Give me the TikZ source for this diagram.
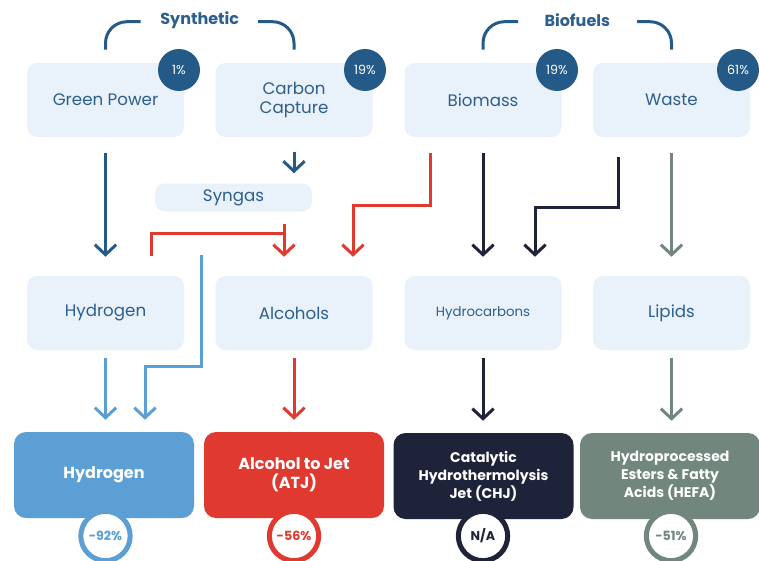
\documentclass[tikz,border=0pt]{standalone}
\usepackage{fontspec}
\setmainfont{Poppins}
\usetikzlibrary{arrows.meta,calc,positioning}

\definecolor{dblue}{HTML}{245A88}
\definecolor{tblue}{HTML}{2D5F8E}
\definecolor{boxbg}{HTML}{E9F1FA}
\definecolor{lblue}{HTML}{5B9FD4}
\definecolor{fred}{HTML}{E03A30}
\definecolor{navy}{HTML}{1F2339}
\definecolor{sage}{HTML}{71877E}

\begin{document}
\begin{tikzpicture}[x=0.75pt,y=0.75pt,yscale=-1,xscale=1,
  src/.style={fill=boxbg, rounded corners=7.5pt, minimum width=117.75pt, minimum height=55.5pt,
    text=tblue, font=\fontsize{12.5}{14}\selectfont, align=center, inner sep=0pt},
  fuel/.style={fill=#1, rounded corners=9pt, minimum width=135pt, minimum height=64.5pt,
    text=white, font=\bfseries\fontsize{12}{14}\selectfont, align=center, inner sep=0pt},
  share/.style={circle, fill=dblue, minimum size=31.5pt, inner sep=0pt, text=white,
    font=\fontsize{9.5}{10}\selectfont},
  cut/.style={circle, draw=#1, line width=3.75pt, fill=white, minimum size=37pt, inner sep=0pt,
    text=#1, font=\bfseries\fontsize{9.5}{10}\selectfont},
  title/.style={text=tblue, font=\bfseries\fontsize{12}{14}\selectfont},
  group/.style={draw=dblue, line width=2.25pt, rounded corners=16pt},
  flow/.style={draw=#1, line width=2.25pt, -{Straight Barb[length=7.5pt,width=16pt]}},
  pipe/.style={draw=#1, line width=2.25pt}
]
\useasboundingbox (0,0) rectangle (759,560);
\clip (0,0) rectangle (759,560);

% feedstocks
\node[src] (gp) at (105.5,100) {Green Power};
\node[src] (cc) at (294,100) {Carbon\\Capture};
\node[src] (bm) at (483,100) {Biomass};
\node[src] (ws) at (671.5,100) {Waste};

\node[share] (gp-s) at (179,70) {1\%};
\node[share] (cc-s) at (365,70) {19\%};
\node[share] (bm-s) at (557,70) {19\%};
\node[share] (ws-s) at (738,70) {61\%};

% group headings
\node[title] (syn-t) at ($(gp.north)!0.5!(cc.north)+(0,-43)$) {Synthetic};
\node[title] (bio-t) at ($(bm.north)!0.5!(ws.north)+(0,-43)$) {Biofuels};
\draw[group] ($(gp.north)+(35,-41)$) -| ($(gp.north)+(0,-13)$);
\draw[group] ($(cc.north)+(-36,-41)$) -| ($(cc.north)+(0,-13)$);
\draw[group] ($(bm.north)+(35,-41)$) -| ($(bm.north)+(0,-13)$);
\draw[group] ($(ws.north)+(-34.5,-41)$) -| ($(ws.north)+(0,-13)$);

% intermediates
\node[src, minimum height=21pt] (syn) at (233.5,197.5) {Syngas};
\node[src] (h2) at (105.5,313) {Hydrogen};
\node[src] (alc) at (294,313) {Alcohols};
\node[src, font=\fontsize{10}{11}\selectfont] (hc) at (483,313) {Hydrocarbons};
\node[src] (lip) at (671.5,313) {Lipids};

% fuels
\node[fuel=lblue] (hyd) at (104,475) {Hydrogen};
\node[fuel=fred] (atj) at (294,475) {Alcohol to Jet\\(ATJ)};
\node[fuel=navy, font=\bfseries\fontsize{10.5}{13.5}\selectfont] (chj) at (483.5,476) {Catalytic\\Hydrothermolysis\\Jet (CHJ)};
\node[fuel=sage, font=\bfseries\fontsize{10.5}{13.5}\selectfont] (hefa) at (670,476) {Hydroprocessed\\Esters \& Fatty\\Acids (HEFA)};

\node[cut=lblue] (hyd-c) at (105.5,536) {-92\%};
\node[cut=fred] (atj-c) at (294,536) {-56\%};
\node[cut=navy] (chj-c) at (483,536) {N/A};
\node[cut=sage] (hefa-c) at (671,536) {-51\%};

% feedstock to intermediate
\coordinate (atop) at ($(alc.north)+(-10,0)$);
\coordinate (mix) at ($(syn.south)+(-32.5,43)$);
\draw[flow=dblue, shorten <=12pt, shorten >=14.25pt] (gp.south) -- (h2.north);
\draw[flow=dblue, shorten <=11pt, shorten >=7.5pt] (cc.south) -- (syn.north -| cc.south);
\draw[flow=fred, shorten <=9pt, shorten >=14.25pt] (syn.south -| atop) -- (atop);
\draw[pipe=fred] ($(syn.south -| atop)+(0,22)$) -| ($(h2.north)+(45.5,-20)$);
\draw[flow=fred, shorten <=12pt, shorten >=14.25pt] ($(bm.south)+(-53,0)$) -- ++(0,68) -| ($(alc.north)+(59,0)$);
\draw[flow=navy, shorten <=12pt, shorten >=14.25pt] (bm.south) -- (hc.north);
\draw[flow=navy, shorten <=15pt, shorten >=14.25pt] ($(ws.south)+(-53.5,0)$) -- ++(0,70) -| ($(hc.north)+(52,0)$);
\draw[flow=sage, shorten <=12pt, shorten >=14.25pt] (ws.south) -- (lip.north);

% intermediate to fuel
\draw[flow=lblue, shorten >=9pt] (mix) -- ($(h2.south)+(95.5,16)$) -| ($(hyd.north)+(41,0)$);
\draw[flow=lblue, shorten <=6pt, shorten >=9pt] (h2.south) -- (h2.south |- hyd.north);
\draw[flow=fred, shorten <=6pt, shorten >=9pt] (alc.south) -- (alc.south |- atj.north);
\draw[flow=navy, shorten <=6pt, shorten >=9pt] (hc.south) -- (hc.south |- chj.north);
\draw[flow=sage, shorten <=6pt, shorten >=9pt] (lip.south) -- (lip.south |- hefa.north);

\end{tikzpicture}
\end{document}
